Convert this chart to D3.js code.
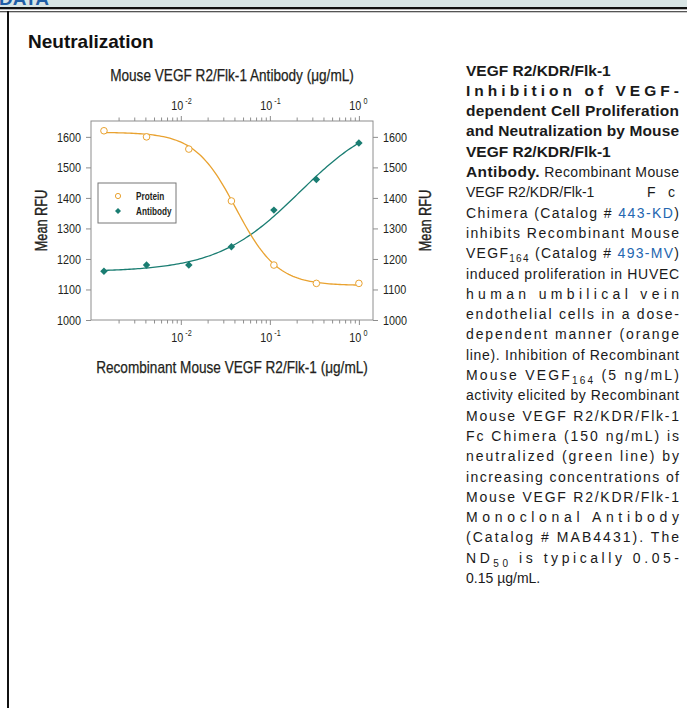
<!DOCTYPE html>
<html>
<head>
<meta charset="utf-8">
<title>neutralization</title>
<style>
	body { margin: 0; background: #fff; }
	.chart text {
		font-family: "Liberation Sans", Arial, sans-serif;
		fill: #231f20;
	}
	.desc {
		font-family: "Liberation Sans", Arial, sans-serif;
		font-size: 14px;
		fill: #1a1a1a;
	}
</style>
<script src="https://d3js.org/d3.v7.min.js"></script>
</head>
<body>
<script type="text/javascript">
	// concentrations (ug/mL), 1:3 dilution series
	var concentrations = [0.00137, 0.00412, 0.0123, 0.037, 0.111, 0.333, 1];
	var proteinRFU = [1620, 1600, 1560, 1390, 1180, 1120, 1120];
	var antibodyRFU = [1160, 1180, 1180, 1240, 1360, 1460, 1580];
	// fitted 4PL curves: [bottom, top, EC50, hill]
	var proteinFit = [1113, 1615, 0.0419, 1.87];
	var antibodyFit = [1158, 1680, 0.216, 0.94];
	var yTicks = [1000, 1100, 1200, 1300, 1400, 1500, 1600];
	var xLabels = ['-2', '-1', '0'];
	var seriesNames = ['Protein', 'Antibody'];

	var width = 687, height = 708;
	var plotLeft = 91, plotRight = 373, plotTop = 121, plotBottom = 320;
	var orange = '#e9a230', teal = '#1a7d72', axisGrey = '#8e8e8e';

	var svg = d3.select('body').append('svg')
		.attr('width', width)
		.attr('height', height);

	// squeeze a text horizontally (the original uses a condensed face)
	function narrow(sel, k) {
		sel.each(function () {
			var w = this.getComputedTextLength();
			d3.select(this).attr('textLength', w * k).attr('lengthAdjust', 'spacingAndGlyphs');
		});
	}

	// page header band and frame
	svg.append('rect').attr('width', width).attr('height', 7).attr('fill', '#d8e5e5');
	svg.append('text').attr('x', -1).attr('y', 4.5)
		.style('font', 'bold 19px "Liberation Sans", Arial, sans-serif')
		.attr('fill', '#1f5ea6').text('DATA');
	svg.append('rect').attr('y', 7).attr('width', width).attr('height', 2.3).attr('fill', '#111');
	svg.append('rect').attr('y', 11).attr('width', width).attr('height', 1.3).attr('fill', '#555');
	svg.append('rect').attr('x', 7).attr('y', 11).attr('width', 2).attr('height', height - 11).attr('fill', '#111');

	svg.append('text').attr('x', 28).attr('y', 48)
		.style('font', 'bold 19px "Liberation Sans", Arial, sans-serif')
		.attr('fill', '#111').text('Neutralization');

	// ---- chart ----
	var chart = svg.append('g').attr('class', 'chart');

	var x = d3.scaleLog().domain([0.00098, 1.44]).range([plotLeft, plotRight]);
	var y = d3.scaleLinear().domain([1000, 1652]).range([plotBottom, plotTop]);

	var xTickVals = x.ticks().filter(function (v) { return v > 0.0011; });
	function isMajor(v) {
		var l = Math.log10(v);
		return Math.abs(l - Math.round(l)) < 1e-6;
	}
	var majors = xTickVals.filter(isMajor);

	function styleAxis(g) {
		g.select('.domain').remove();
		g.selectAll('.tick line').attr('stroke', axisGrey);
		g.selectAll('.tick text').style('font-size', '13.5px').attr('fill', '#231f20')
			.call(narrow, 0.8);
	}

	// bottom axis
	var gb = chart.append('g').attr('transform', 'translate(0,' + plotBottom + ')')
		.call(d3.axisBottom(x).tickValues(xTickVals).tickSize(4))
		.call(styleAxis);
	gb.selectAll('.tick text').remove();
	gb.selectAll('.tick line').attr('y2', function (d) { return isMajor(d) ? 5 : 3.5; });

	// top axis
	var gt = chart.append('g').attr('transform', 'translate(0,' + plotTop + ')')
		.call(d3.axisTop(x).tickValues(xTickVals).tickSize(4))
		.call(styleAxis);
	gt.selectAll('.tick text').remove();
	gt.selectAll('.tick line').attr('y2', function (d) { return isMajor(d) ? -5 : -3.5; });

	// power-of-ten labels: base and exponent as separate texts
	function powerLabels(yPos) {
		chart.selectAll(null).data(majors).enter().append('text')
			.attr('x', function (d) { return x(d) + 2.5; })
			.attr('y', yPos)
			.attr('text-anchor', 'end')
			.style('font-size', '13.5px')
			.text('10')
			.call(narrow, 0.8);
		chart.selectAll(null).data(majors).enter().append('text')
			.attr('x', function (d) { return x(d) + 4.5; })
			.attr('y', yPos - 6)
			.style('font-size', '8.5px')
			.text(function (d, i) { return xLabels[i]; })
			.call(narrow, 0.85);
	}
	powerLabels(342);
	powerLabels(110);

	// left / right axes
	chart.append('g').attr('transform', 'translate(' + plotLeft + ',0)')
		.call(d3.axisLeft(y).tickValues(yTicks).tickFormat(d3.format('d')).tickSize(5).tickPadding(5))
		.call(styleAxis);
	chart.append('g').attr('transform', 'translate(' + plotRight + ',0)')
		.call(d3.axisRight(y).tickValues(yTicks).tickFormat(d3.format('d')).tickSize(5).tickPadding(5))
		.call(styleAxis);

	// plot frame
	chart.append('rect')
		.attr('x', plotLeft).attr('y', plotTop)
		.attr('width', plotRight - plotLeft).attr('height', plotBottom - plotTop)
		.attr('fill', 'none').attr('stroke', axisGrey).attr('stroke-width', 1);

	// titles
	chart.append('text').attr('x', (plotLeft + plotRight) / 2).attr('y', 81)
		.attr('text-anchor', 'middle').style('font-size', '17px')
		.style('stroke', '#231f20').style('stroke-width', 0.25)
		.text('Mouse VEGF R2/Flk-1 Antibody (\u03bcg/mL)')
		.call(narrow, 0.8);
	chart.append('text').attr('x', (plotLeft + plotRight) / 2).attr('y', 373)
		.attr('text-anchor', 'middle').style('font-size', '17px')
		.style('stroke', '#231f20').style('stroke-width', 0.25)
		.text('Recombinant Mouse VEGF R2/Flk-1 (\u03bcg/mL)')
		.call(narrow, 0.8);
	[46.5, 430.5].forEach(function (lx) {
		chart.append('text')
			.attr('transform', 'translate(' + lx + ',' + (plotTop + plotBottom) / 2 + ') rotate(-90)')
			.attr('text-anchor', 'middle').style('font-size', '17px')
			.style('stroke', '#231f20').style('stroke-width', 0.4)
			.text('Mean RFU')
			.call(narrow, 0.75);
	});

	// fitted curves
	function fit(p, rising) {
		return function (c) {
			var r = rising ? Math.pow(p[2] / c, p[3]) : Math.pow(c / p[2], p[3]);
			return p[0] + (p[1] - p[0]) / (1 + r);
		};
	}
	var lo = Math.log10(concentrations[0]), hi = Math.log10(concentrations[concentrations.length - 1]);
	var fitX = d3.range(0, 121).map(function (i) { return Math.pow(10, lo + (hi - lo) * i / 120); });
	var line = d3.line()
		.x(function (d) { return x(d[0]); })
		.y(function (d) { return y(d[1]); });

	var pf = fit(proteinFit, false), af = fit(antibodyFit, true);
	chart.append('path')
		.attr('d', line(fitX.map(function (c) { return [c, af(c)]; })))
		.attr('fill', 'none').attr('stroke', teal).attr('stroke-width', 1.3);
	chart.append('path')
		.attr('d', line(fitX.map(function (c) { return [c, pf(c)]; })))
		.attr('fill', 'none').attr('stroke', orange).attr('stroke-width', 1.3);

	// markers
	chart.selectAll('circle.protein')
		.data(concentrations).enter().append('circle')
		.attr('class', 'protein')
		.attr('cx', function (d) { return x(d); })
		.attr('cy', function (d, i) { return y(proteinRFU[i]); })
		.attr('r', 3.3)
		.attr('fill', '#fff').attr('stroke', orange).attr('stroke-width', 1);

	var diamond = d3.symbol().type(d3.symbolSquare).size(28);
	chart.selectAll('path.antibody')
		.data(concentrations).enter().append('path')
		.attr('class', 'antibody')
		.attr('d', diamond)
		.attr('transform', function (d, i) {
			return 'translate(' + x(d) + ',' + y(antibodyRFU[i]) + ') rotate(45)';
		})
		.attr('fill', teal);

	// legend
	var legend = chart.append('g');
	legend.append('rect').attr('x', 98).attr('y', 183).attr('width', 78).attr('height', 40)
		.attr('fill', '#fff').attr('stroke', '#777').attr('stroke-width', 1);
	var rows = legend.selectAll('g.row').data(seriesNames).enter().append('g')
		.attr('transform', function (d, i) { return 'translate(118,' + (196 + i * 15) + ')'; });
	rows.append('text').attr('x', 18).attr('y', 3.5)
		.style('font-size', '10.5px').style('font-weight', 'bold')
		.text(function (d) { return d; })
		.call(narrow, 0.78);
	rows.filter(function (d, i) { return i === 0; }).append('circle')
		.attr('r', 2.6).attr('fill', '#fff').attr('stroke', orange);
	rows.filter(function (d, i) { return i === 1; }).append('path')
		.attr('d', d3.symbol().type(d3.symbolSquare).size(18))
		.attr('transform', 'rotate(45)').attr('fill', teal);

	// ---- description text ----
	var descLines = [
		{ s: [{ t: 'VEGF R2/KDR/Flk-1', b: 1 }] },
		{ s: [{ t: 'Inhibition of VEGF-', b: 1 }], j: 1 },
		{ s: [{ t: 'dependent Cell Proliferation', b: 1 }], j: 1 },
		{ s: [{ t: 'and Neutralization by Mouse', b: 1 }], j: 1 },
		{ s: [{ t: 'VEGF R2/KDR/Flk-1', b: 1 }] },
		{ s: [{ t: 'Antibody.', b: 1 }, { t: ' Recombinant Mouse' }], j: 1 },
		{ s: [{ t: 'VEGF R2/KDR/Flk-1' }, { t: 'F', x: 647 }, { t: 'c', x: 668 }] },
		{ s: [{ t: 'Chimera (Catalog # ' }, { t: '443-KD', a: 1 }, { t: ')' }], j: 1 },
		{ s: [{ t: 'inhibits Recombinant Mouse' }], j: 1 },
		{ s: [{ t: 'VEGF' }, { t: '164', sub: 1 }, { t: ' (Catalog # ' }, { t: '493-MV', a: 1 }, { t: ')' }], j: 1 },
		{ s: [{ t: 'induced proliferation in HUVEC' }], j: 1 },
		{ s: [{ t: 'human umbilical vein' }], j: 1 },
		{ s: [{ t: 'endothelial cells in a dose-' }], j: 1 },
		{ s: [{ t: 'dependent manner (orange' }], j: 1 },
		{ s: [{ t: 'line). Inhibition of Recombinant' }], j: 1 },
		{ s: [{ t: 'Mouse VEGF' }, { t: '164', sub: 1 }, { t: ' (5 ng/mL)' }], j: 1 },
		{ s: [{ t: 'activity elicited by Recombinant' }], j: 1 },
		{ s: [{ t: 'Mouse VEGF R2/KDR/Flk-1' }], j: 1 },
		{ s: [{ t: 'Fc Chimera (150 ng/mL) is' }], j: 1 },
		{ s: [{ t: 'neutralized (green line) by' }], j: 1 },
		{ s: [{ t: 'increasing concentrations of' }], j: 1 },
		{ s: [{ t: 'Mouse VEGF R2/KDR/Flk-1' }], j: 1 },
		{ s: [{ t: 'Monoclonal Antibody' }], j: 1 },
		{ s: [{ t: '(Catalog # MAB4431). The' }], j: 1 },
		{ s: [{ t: 'ND' }, { t: '50', sub: 1 }, { t: ' is typically 0.05-' }], j: 1 },
		{ s: [{ t: '0.15 \u00b5g/mL.' }] }
	];
	var descX = 466, descW = 213, descTop = 75.5, descStep = 20.3;

	descLines.forEach(function (ln, i) {
		var t = svg.append('text').attr('class', 'desc')
			.attr('x', descX).attr('y', descTop + i * descStep);
		if (ln.j) t.attr('textLength', descW).attr('lengthAdjust', 'spacing');
		var shifted = false;
		ln.s.forEach(function (seg) {
			var ts = t.append('tspan').text(seg.t);
			if (seg.b) ts.style('font-weight', 'bold').style('font-size', '15.5px');
			if (seg.a) ts.attr('fill', '#2466b0');
			if (seg.x) ts.attr('x', seg.x);
			if (seg.sub) {
				ts.attr('dy', 4).style('font-size', '10px');
				shifted = true;
			} else if (shifted) {
				ts.attr('dy', -4);
				shifted = false;
			}
		});
	});
</script>
</body>
</html>
